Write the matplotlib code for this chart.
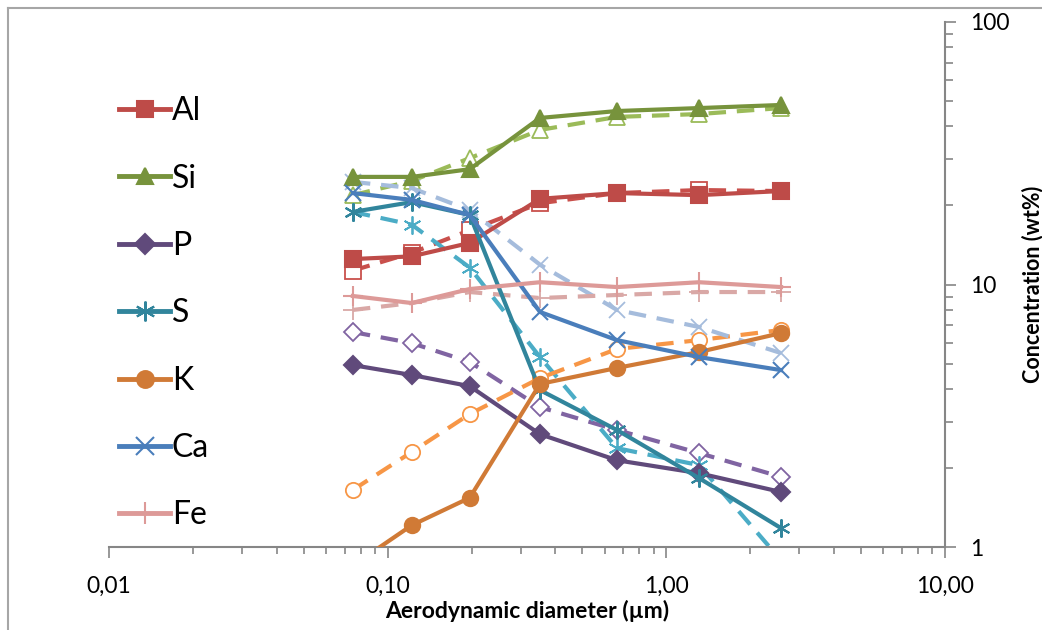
import matplotlib.pyplot as plt
from matplotlib.lines import Line2D

plt.rcParams['font.family'] = ['Lato', 'DejaVu Sans']

# impactor stage diameters (um)
diam = [0.075, 0.122, 0.197, 0.352, 0.665, 1.31, 2.58]

# filled markers, solid lines
al = [12.5, 12.8, 14.4, 21.2, 22.3, 21.9, 22.7]
si = [25.7, 25.7, 27.5, 43.1, 45.8, 47.0, 48.3]
p = [4.93, 4.52, 4.10, 2.69, 2.14, 1.91, 1.62]
s = [18.9, 20.6, 18.4, 3.96, 2.79, 1.83, 1.18]
k = [0.85, 1.21, 1.54, 4.18, 4.81, 5.53, 6.53]
ca = [22.3, 21.0, 18.4, 7.86, 6.14, 5.29, 4.72]
fe = [9.04, 8.50, 9.61, 10.2, 9.78, 10.2, 9.78]

# open markers, dashed lines
al2 = [11.3, 13.2, 16.1, 20.4, 22.3, 22.9, 22.7]
si2 = [21.9, 24.8, 30.3, 38.8, 43.5, 44.6, 47.0]
p2 = [6.59, 5.98, 5.07, 3.41, 2.79, 2.28, 1.85]
s2 = [18.9, 16.9, 11.6, 5.29, 2.38, 2.05, 0.89]
k2 = [1.65, 2.30, 3.21, 4.40, 5.68, 6.14, 6.71]
ca2 = [24.6, 23.3, 19.2, 11.9, 8.0, 6.89, 5.48]
fe2 = [8.0, 8.5, 9.36, 8.88, 9.12, 9.36, 9.36]

names = ['Al', 'Si', 'P', 'S', 'K', 'Ca', 'Fe']
solid = [al, si, p, s, k, ca, fe]
dashed = [al2, si2, p2, s2, k2, ca2, fe2]
col_solid = ['#BE4B48', '#77933C', '#604A7B', '#31859C', '#D07A36', '#4A7EBB', '#DD9A98']
col_dash = ['#C9504C', '#9BBB59', '#8064A2', '#4BACC6', '#F79646', '#A5BCDC', '#D9A8A6']
markers = ['s', '^', 'D', (6, 2, 0), 'o', 'x', '+']
msizes = [11, 11, 9, 13, 11, 12, 14]

fig = plt.figure(figsize=(10.42, 6.30), dpi=100)
ax = fig.add_axes([109 / 1042, 83 / 630, 836 / 1042, 525 / 630])

handles = []
for i in range(len(names)):
    ax.plot(diam, dashed[i], color=col_dash[i], lw=3, dashes=(4.2, 2.6),
            marker=markers[i], ms=msizes[i], mfc='white', mec=col_dash[i],
            mew=1.3, zorder=2)
    ax.plot(diam, solid[i], color=col_solid[i], lw=3,
            marker=markers[i], ms=msizes[i], mfc=col_solid[i],
            mec=col_solid[i], mew=1.5, zorder=3)
    handles.append(Line2D([], [], color=col_solid[i], lw=3.5, marker=markers[i],
                          ms=msizes[i] * 1.1, mfc=col_solid[i], mec=col_solid[i],
                          mew=1.5))

ax.set_xscale('log')
ax.set_yscale('log')
ax.set_xlim(0.01, 10)
ax.set_ylim(1, 100)

ax.set_xticks([0.01, 0.1, 1, 10])
ax.set_xticklabels(['0,01', '0,10', '1,00', '10,00'])
ax.set_yticks([1, 10, 100])
ax.set_yticklabels(['1', '10', '100'])

ax.yaxis.tick_right()
ax.yaxis.set_label_position('right')
for side in ['top', 'left']:
    ax.spines[side].set_visible(False)
for side in ['bottom', 'right']:
    ax.spines[side].set_color('#868686')
    ax.spines[side].set_linewidth(1.5)

ax.tick_params(which='both', colors='#868686', labelcolor='black', width=1.2,
               labelsize=16.5)
ax.tick_params(axis='x', which='major', length=8, pad=13)
ax.tick_params(axis='x', which='minor', length=5)
ax.tick_params(axis='y', which='major', length=8, pad=10)
ax.tick_params(axis='y', which='minor', length=6)

ax.set_xlabel('Aerodynamic diameter (µm)', fontsize=16.5, fontweight='bold',
              labelpad=2)
ax.set_ylabel('Concentration (wt%)', fontsize=15.5, fontweight='bold',
              rotation=90, va='center', ha='center')
ax.yaxis.set_label_coords((1033 - 109) / 836, 0.5)

ax.legend(handles, names, loc='center left', bbox_to_anchor=(-0.003, 0.445),
          frameon=False, fontsize=23, handlelength=1.6, handletextpad=0.05,
          labelspacing=1.17, borderaxespad=0.0)

# chart area border
fig.add_artist(Line2D([8 / 1042, 8 / 1042], [0, 1 - 8 / 630], color='#A6A6A6', lw=1.5))
fig.add_artist(Line2D([8 / 1042, 1], [1 - 8 / 630, 1 - 8 / 630], color='#A6A6A6', lw=1.5))

fig.savefig('out.png', dpi=100)
